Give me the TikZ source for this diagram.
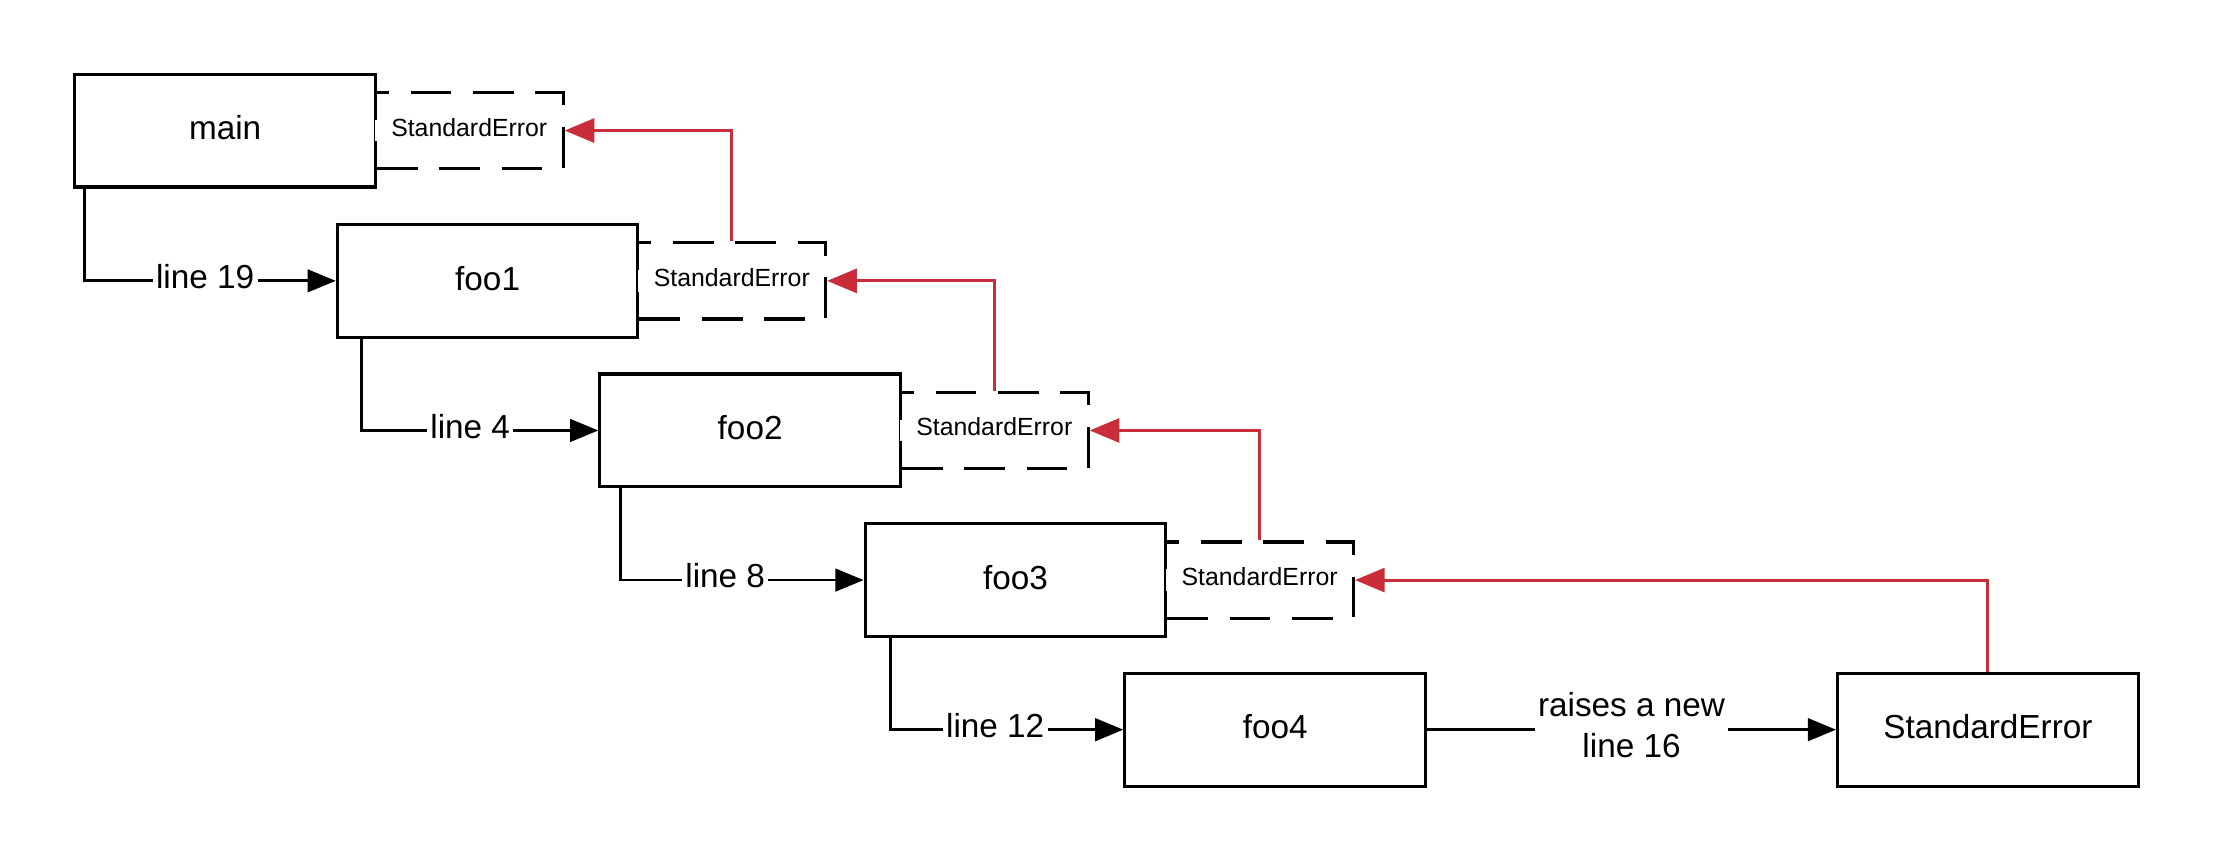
\documentclass[tikz,border=0pt]{standalone}
\usepackage{fontspec}
\setmainfont{Liberation Sans}
\usetikzlibrary{arrows.meta}
\definecolor{errred}{RGB}{201,45,57}
\begin{document}
\begin{tikzpicture}[x=0.5pt,y=-0.5pt,
  fnbox/.style={draw=black, line width=1.1pt, fill=white, minimum width=106.5pt, minimum height=40pt, inner sep=0pt, text depth=2pt, font=\fontsize{11.8}{14}\selectfont},
  errbox/.style={draw=black, line width=1.1pt, fill=white, dash pattern=on 14.4pt off 7.7pt, dash phase=21.55pt, minimum width=66.5pt, minimum height=27pt, inner sep=0pt, text depth=2.5pt, anchor=west, xshift=-1.1pt, font=\fontsize{8.8}{10.5}\selectfont},
  conn/.style={draw=black, line width=1pt, -{Triangle[length=10pt,width=8pt]}},
  err/.style={draw=errred, line width=1.05pt, -{Triangle[length=10.5pt,width=8.5pt]}},
  lbl/.style={fill=white, inner xsep=1.2pt, inner ysep=0.5pt, yshift=1.5pt, font=\fontsize{11.8}{14.5}\selectfont, align=center}
]
\useasboundingbox[fill=white] (0,0) rectangle (1568,611);

% function boxes
\node[fnbox] (main) at (159.5,92.5) {main};
\node[fnbox] (foo1) at (345.5,199) {foo1};
\node[fnbox] (foo2) at (531.5,305) {foo2};
\node[fnbox] (foo3) at (719.5,411) {foo3};
\node[fnbox] (foo4) at (903.5,517) {foo4};
\node[fnbox] (seb) at (1408.5,517) {StandardError};

% dashed error boxes
\node[errbox] (se0) at (main.east) {StandardError};
\node[errbox] (se1) at (foo1.east) {StandardError};
\node[errbox] (se2) at (foo2.east) {StandardError};
\node[errbox] (se3) at (foo3.east) {StandardError};

% call connectors
\draw[conn] ([xshift=4pt]main.south west) |- node[lbl, pos=0.74] {line 19} (foo1.west);
\draw[conn] ([xshift=9pt]foo1.south west) |- node[lbl, pos=0.73] {line 4} (foo2.west);
\draw[conn] ([xshift=8pt]foo2.south west) |- node[lbl, pos=0.715] {line 8} (foo3.west);
\draw[conn] ([xshift=9.5pt]foo3.south west) |- node[lbl, pos=0.725] {line 12} (foo4.west);
\draw[conn] (foo4.east) -- node[lbl] {raises a new\\line 16} (seb.west);

% error propagation
\draw[err] (seb.north) |- (se3.east);
\draw[err] (se3.north) |- (se2.east);
\draw[err] (se2.north) |- (se1.east);
\draw[err] (se1.north) |- (se0.east);
\end{tikzpicture}
\end{document}
